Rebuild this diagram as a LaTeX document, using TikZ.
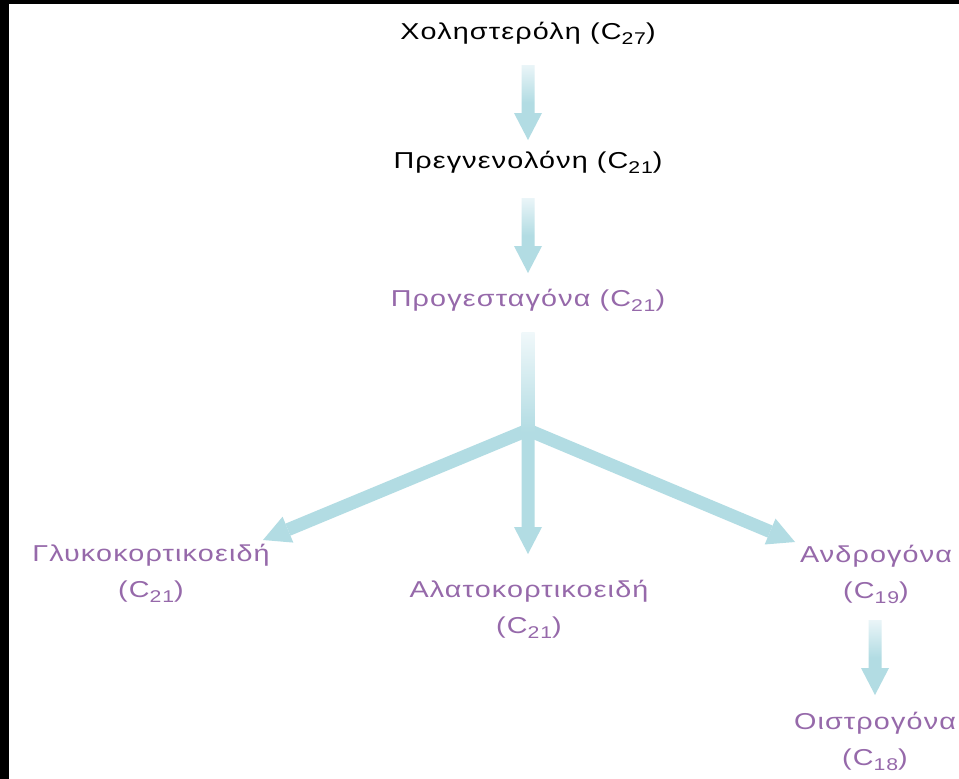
\documentclass[tikz,border=0pt]{standalone}
\usepackage{fontspec}
\setmainfont{Liberation Sans}[FakeStretch=1.25,LetterSpace=5]
\usetikzlibrary{calc,arrows.meta}
\definecolor{acol}{HTML}{B2DCE3}
\definecolor{alight}{HTML}{EAF5F8}
\definecolor{purp}{HTML}{9669AA}
\newcommand\sbs[1]{\raisebox{-5.5pt}{\fontsize{17}{17}\selectfont #1}}
% vertical block arrow from #2 down to tip #3
\newcommand\varrow[3][]{\path[#1] ($(#2)+(-6.5,0)$) -- ($(#3)+(-6.5,-27)$) -- ($(#3)+(-14,-27)$) -- (#3) -- ($(#3)+(14,-27)$) -- ($(#3)+(6.5,-27)$) -- ($(#2)+(6.5,0)$) -- cycle;}
\begin{document}
\begin{tikzpicture}[x=1pt,y=-1pt,
  lbl/.style={font=\fontsize{23}{36}\selectfont, inner sep=0pt, align=center, anchor=base},
  plbl/.style={lbl, text=purp},
  fadearrow/.style={top color=alight, bottom color=acol, middle color=acol},
  solidarrow/.style={fill=acol},
  diag/.style={draw=acol, line width=13pt, -{Triangle[length=27pt,width=28pt,line width=0pt]}}]
\fill[black] (0,0) rectangle (959,779);
\fill[white] (9,4) rectangle (959,779);
\useasboundingbox (0,0) rectangle (959,779);

\node[lbl] (chol) at (528,39) {Χοληστερόλη (C\sbs{27})};
\node[lbl] (preg) at (528,168) {Πρεγνενολόνη (C\sbs{21})};
\node[plbl] (prog) at (528,306) {Προγεσταγόνα (C\sbs{21})};
\node[plbl] (gluco) at (151,597) {Γλυκοκορτικοειδή\\(C\sbs{21})};
\node[plbl] (alat) at (529,633) {Αλατοκορτικοειδή\\(C\sbs{21})};
\node[plbl] (andr) at (876,598) {Ανδρογόνα\\(C\sbs{19})};
\node[plbl] (oist) at (875,765) {Οιστρογόνα\\(C\sbs{18})};

\coordinate (a1s) at ($(chol.base)+(0,26)$);
\coordinate (a1e) at ($(preg.base)+(0,-28)$);
\coordinate (a2s) at ($(preg.base)+(0,30)$);
\coordinate (a2e) at ($(prog.base)+(0,-33)$);
\coordinate (sts) at ($(prog.base)+(0,26)$);
\coordinate (bp) at ($(prog.base)+(0,124)$);
\coordinate (ce) at ($(alat.base)+(-1,-79)$);
\coordinate (tipL) at ($(gluco.base)+(112,-57)$);
\coordinate (tipR) at ($(andr.base)+(-81,-56)$);
\coordinate (a4s) at ($(andr.base)+(-1,22)$);
\coordinate (a4e) at ($(oist.base)+(0,-70)$);

\varrow[fadearrow]{a1s}{a1e}
\varrow[fadearrow]{a2s}{a2e}
\varrow[fadearrow]{a4s}{a4e}

\draw[diag] (bp) -- (tipL);
\draw[diag] (bp) -- (tipR);
\varrow[solidarrow]{bp}{ce}
\shade[top color=alight!70!white, bottom color=acol] ($(sts)+(-6.5,0)$) rectangle ($(bp)+(6.5,2)$);
\end{tikzpicture}
\end{document}
